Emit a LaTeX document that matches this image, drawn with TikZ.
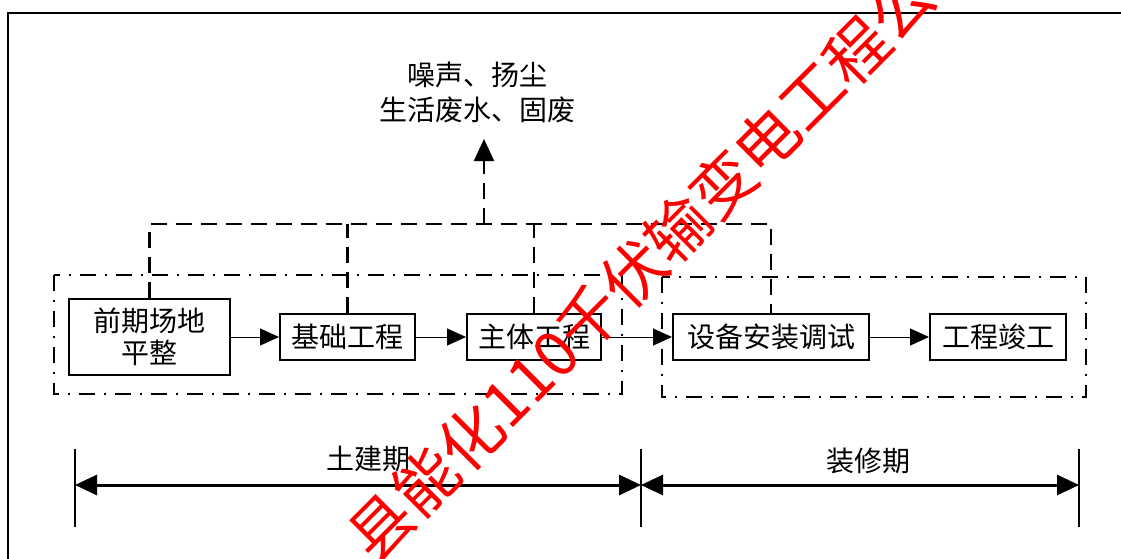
\documentclass[tikz,border=0pt]{standalone}
\usepackage{fontspec}
\newfontfamily\cjk{Noto Sans CJK SC}
\usetikzlibrary{arrows.meta}
\tikzset{
  kasten/.style={draw,line width=2pt,inner sep=0pt,align=center,
    font=\cjk\fontsize{28}{32}\selectfont},
  fluss/.style={line width=1pt,-{Triangle[length=19pt,width=17pt]}},
  bus/.style={line width=2.2pt,dash pattern=on 16pt off 9pt},
  gruppe/.style={line width=2pt,dash pattern=on 16pt off 9pt on 2pt off 9pt},
  zeit/.style={line width=3pt,{Triangle[length=22pt,width=20pt]}-{Triangle[length=22pt,width=20pt]}},
  marke/.style={line width=1.5pt},
  beschr/.style={align=center,font=\cjk\fontsize{28}{35}\selectfont}
}
\begin{document}
\begin{tikzpicture}[x=1pt,y=-1pt]
\clip (0,0) rectangle (1121,558);
\fill[white] (0,0) rectangle (1121,558);
% Rahmen
\draw[line width=2pt] (8,600) -- (8,13) -- (1140,13);
% Bauabschnitte
\draw[gruppe] (54,275) rectangle (622,394);
\draw[gruppe] (662,277) rectangle (1086,397);
% Arbeitsschritte
\node[kasten,minimum width=161pt,minimum height=76pt] (planie) at (149.5,337) {前期场地\\平整};
\node[kasten,minimum width=135pt,minimum height=46pt] (fund) at (347.5,337) {基础工程};
\node[kasten,minimum width=134pt,minimum height=46pt] (haupt) at (534,337) {主体工程};
\node[kasten,minimum width=196pt,minimum height=46pt] (anlage) at (771,337) {设备安装调试};
\node[kasten,minimum width=136pt,minimum height=46pt] (ende) at (998,337) {工程竣工};
\draw[fluss] (planie) -- (fund);
\draw[fluss] (fund) -- (haupt);
\draw[fluss] (haupt) -- (anlage);
\draw[fluss] (anlage) -- (ende);
% Emissionen
\node[beschr] (emis) at (477,92) {噪声、扬尘\\生活废水、固废};
\coordinate (abzw) at (484,224);
\coordinate (spitze) at (484,139);
\draw[bus] (planie.north) |- (anlage.north |- abzw) -- (anlage.north);
\draw[bus] (fund.north) -- (fund.north |- abzw);
\draw[bus] (haupt.north) -- (haupt.north |- abzw);
\draw[bus,-{Triangle[length=22pt,width=20pt]}] (abzw) -- (spitze);
% Zeitachse
\coordinate (t0) at (75,485);
\coordinate (t1) at (641,485);
\coordinate (t2) at (1079,485);
\foreach \t in {t0,t1,t2}
  \draw[marke] (\t |- 0,449) -- (\t |- 0,527);
\draw[zeit] (t0) -- (t1);
\draw[zeit] (t1) -- (t2);
\node[beschr] (tujian) at (368,459) {土建期};
\node[beschr] (zhuangxiu) at (868,461) {装修期};
% Wasserzeichen
\node[text=red,rotate=45,inner sep=0pt,font=\cjk\fontsize{63}{63}\selectfont] (wz) at (641,266) {县能化110千伏输变电工程公};
\end{tikzpicture}
\end{document}
